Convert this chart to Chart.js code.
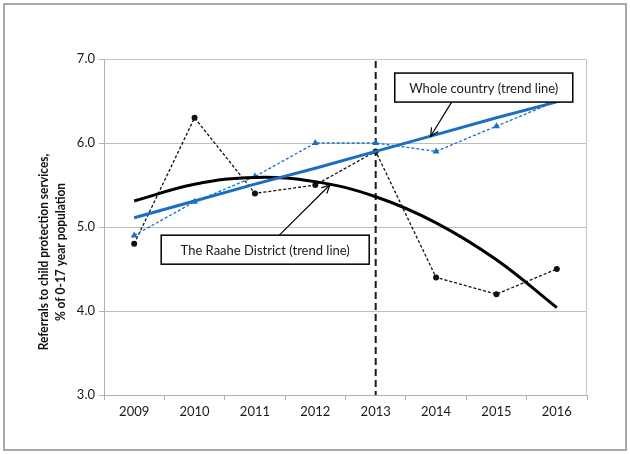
<!DOCTYPE html>
<html><head><meta charset="utf-8">
<script src="https://cdn.jsdelivr.net/npm/chart.js@4/dist/chart.umd.min.js"></script>
<style>html,body{margin:0;padding:0;background:#fff}#wrap{width:630px;height:454px;position:relative}</style>
</head><body><div id="wrap"><canvas id="c" width="630" height="454"></canvas></div>
<script>
const years = ['2009','2010','2011','2012','2013','2014','2015','2016'];
const raaheValues   = [4.8, 6.3, 5.4, 5.5, 5.9, 4.4, 4.2, 4.5];
const countryValues = [4.9, 5.3, 5.6, 6.0, 6.0, 5.9, 6.2, 6.5];
const countryTrend  = [5.11, 5.31, 5.51, 5.70, 5.90, 6.10, 6.30, 6.49];
const raaheTrend    = [5.31, 5.51, 5.59, 5.54, 5.36, 5.05, 4.61, 4.04];
const yMin = 3, yMax = 7, yStep = 1;
const markerYear = '2013';
const labelCountry = 'Whole country (trend line)';
const labelRaahe = 'The Raahe District (trend line)';
const axisTitle = ['Referrals to child protection services,', '% of 0-17 year population'];

const BLUE = '#1b6fc2';
const FONT = 'Lato, "Open Sans", sans-serif';

function arrow(ctx, x1, y1, x2, y2) {
  ctx.beginPath(); ctx.moveTo(x1, y1); ctx.lineTo(x2, y2); ctx.stroke();
  const ang = Math.atan2(y2 - y1, x2 - x1), L = 9, w = 0.45;
  ctx.beginPath();
  ctx.moveTo(x2 - L*Math.cos(ang - w), y2 - L*Math.sin(ang - w));
  ctx.lineTo(x2, y2);
  ctx.lineTo(x2 - L*Math.cos(ang + w), y2 - L*Math.sin(ang + w));
  ctx.stroke();
}
function box(ctx, cx, cy, w, h, text) {
  ctx.fillStyle = '#fff'; ctx.fillRect(cx - w/2, cy - h/2, w, h);
  ctx.strokeStyle = '#000'; ctx.lineWidth = 1.5; ctx.strokeRect(cx - w/2, cy - h/2, w, h);
  ctx.fillStyle = '#1a1a1a'; ctx.font = '13px ' + FONT; ctx.textAlign = 'center'; ctx.textBaseline = 'middle';
  ctx.fillText(text, cx, cy + 1);
}

const overlay = {
  id: 'overlay',
  beforeDraw(chart) {
    const ctx = chart.ctx; ctx.save(); ctx.fillStyle = '#fff'; ctx.fillRect(0, 0, chart.width, chart.height); ctx.restore();
  },
  beforeDatasetsDraw(chart) {
    const a = chart.chartArea, ctx = chart.ctx;
    ctx.save(); ctx.strokeStyle = '#c6c6c6'; ctx.lineWidth = 1;
    ctx.beginPath(); ctx.moveTo(a.left, a.top + 0.5); ctx.lineTo(a.right - 0.5, a.top + 0.5); ctx.lineTo(a.right - 0.5, a.bottom); ctx.stroke();
    const x = chart.scales.x.getPixelForValue(years.indexOf(markerYear));
    ctx.strokeStyle = '#1a1a1a'; ctx.lineWidth = 2; ctx.setLineDash([7, 4]);
    ctx.beginPath(); ctx.moveTo(x, a.top + 2); ctx.lineTo(x, a.bottom); ctx.stroke();
    ctx.restore();
  },
  afterDatasetsDraw(chart) {
    const ctx = chart.ctx, xs = chart.scales.x, ys = chart.scales.y;
    ctx.save();
    ctx.strokeStyle = '#000'; ctx.lineWidth = 1.2; ctx.setLineDash([]);
    arrow(ctx, xs.getPixelForValue(5.26), ys.getPixelForValue(6.49), xs.getPixelForValue(4.91), ys.getPixelForValue(6.08));
    box(ctx, xs.getPixelForValue(5.79), ys.getPixelForValue(6.66), 178, 29, labelCountry);
    ctx.strokeStyle = '#000'; ctx.lineWidth = 1.2;
    arrow(ctx, xs.getPixelForValue(2.40), ys.getPixelForValue(4.90), xs.getPixelForValue(3.24), ys.getPixelForValue(5.50));
    box(ctx, xs.getPixelForValue(2.17), ys.getPixelForValue(4.73), 208, 29, labelRaahe);
    // y-axis title
    ctx.save();
    ctx.translate(0, 252); ctx.rotate(-Math.PI / 2); ctx.scale(0.92, 1);
    ctx.fillStyle = '#111'; ctx.font = 'bold 13px ' + FONT; ctx.textAlign = 'center'; ctx.textBaseline = 'middle';
    ctx.fillText(axisTitle[0], 0, 44);
    ctx.fillText(axisTitle[1], 0, 61);
    ctx.restore();
    // outer frame
    ctx.strokeStyle = '#a8a8a8'; ctx.lineWidth = 2;
    ctx.strokeRect(4, 4, 622, 446);
    ctx.restore();
  }
};

new Chart(document.getElementById('c'), {
  type: 'line',
  data: {
    labels: years,
    datasets: [
      { label: 'Raahe', data: raaheValues, borderColor: '#111', backgroundColor: '#111', borderWidth: 1.3,
        borderDash: [3, 2], pointStyle: 'circle', pointRadius: 3, pointBorderWidth: 0, tension: 0, order: 3 },
      { label: 'Whole country', data: countryValues, borderColor: BLUE, backgroundColor: BLUE, borderWidth: 1.3,
        borderDash: [3, 2], pointStyle: 'triangle', pointRadius: 4, pointBorderWidth: 0, tension: 0, order: 2 },
      { label: 'Raahe trend', data: raaheTrend, borderColor: '#000', borderWidth: 3, pointRadius: 0,
        tension: 0.4, order: 1 },
      { label: 'Country trend', data: countryTrend, borderColor: BLUE, borderWidth: 3, pointRadius: 0,
        tension: 0, order: 0 }
    ]
  },
  options: {
    responsive: false, animation: false, events: [],
    layout: { padding: { top: 59, right: 43, left: 0, bottom: 0 } },
    plugins: { legend: { display: false }, tooltip: { enabled: false } },
    scales: {
      x: {
        type: 'category', offset: true,
        afterFit(s) { s.height = 59; },
        grid: { offset: true, drawOnChartArea: false, drawTicks: true, tickLength: 5, tickColor: '#b0b0b0', tickWidth: 1 },
        border: { color: '#b0b0b0', width: 1 },
        ticks: { color: '#1a1a1a', font: { family: FONT, size: 13 }, padding: 4, maxRotation: 0, autoSkip: false }
      },
      y: {
        min: yMin, max: yMax,
        afterFit(s) { s.width = 104; },
        ticks: { stepSize: yStep, color: '#1a1a1a', font: { family: FONT, size: 13 }, padding: 4,
          callback: v => Number(v).toFixed(1) },
        grid: {
          color: ctx => (ctx.tick && (ctx.tick.value === yMin || ctx.tick.value === yMax)) ? 'rgba(0,0,0,0)' : '#bdbdbd',
          lineWidth: 1, tickLength: 5, tickColor: '#b0b0b0', tickWidth: 1, tickBorderDash: [], borderDash: [6, 4],
          drawTicks: true
        },
        border: { color: '#b0b0b0', width: 1, dash: [] },
        title: { display: false }
      }
    }
  },
  plugins: [overlay]
});
</script>
</body></html>
